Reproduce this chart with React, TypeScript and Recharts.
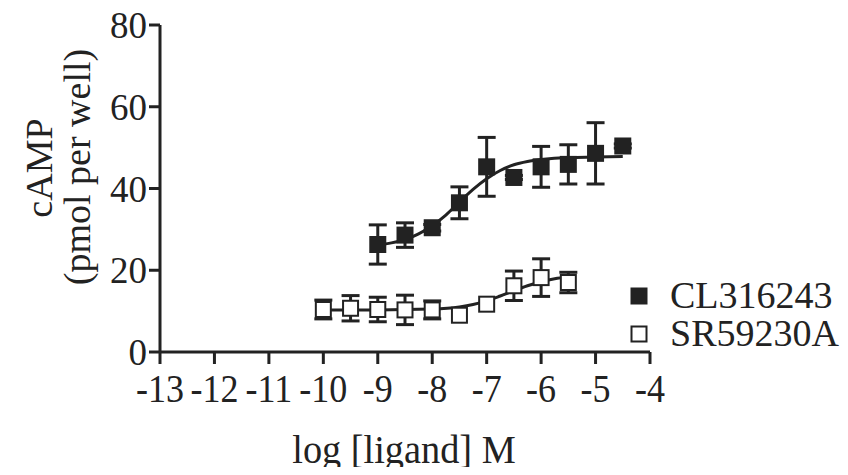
import { ComposedChart, Scatter, XAxis, YAxis, ErrorBar } from "recharts";

// log [ligand] M positions and cAMP means / error bars
const CL_X = [-9, -8.5, -8, -7.5, -7, -6.5, -6, -5.5, -5, -4.5];
const CL_MEAN = [26.3, 28.6, 30.4, 36.5, 45.3, 42.7, 45.3, 45.9, 48.6, 50.4];
const CL_ERR = [4.8, 3.0, 0.8, 3.9, 7.2, 0.5, 5.0, 4.8, 7.5, 0.5];

const SR_X = [-10, -9.5, -9, -8.5, -8, -7.5, -7, -6.5, -6, -5.5];
const SR_MEAN = [10.4, 10.7, 10.4, 10.3, 10.3, 9.0, 11.7, 16.2, 18.2, 17.0];
const SR_ERR = [2.3, 3.1, 3.0, 3.6, 2.2, 0, 0, 3.6, 4.6, 2.5];

// fitted curves
const CL_FIT_X = [-9, -8.75, -8.5, -8.25, -8, -7.75, -7.5, -7.25, -7, -6.75, -6.5, -6.25, -6, -5.5, -5, -4.5];
const CL_FIT_Y = [26.2, 26.7, 27.5, 28.9, 30.9, 33.5, 36.7, 39.8, 42.4, 44.4, 45.8, 46.6, 47.1, 47.6, 47.7, 47.8];

const SR_FIT_X = [-10, -9, -8, -7.5, -7.25, -7, -6.75, -6.5, -6.25, -6, -5.75, -5.5];
const SR_FIT_Y = [10.3, 10.3, 10.5, 11.0, 11.6, 12.5, 13.7, 15.0, 16.2, 17.2, 17.9, 18.4];

const X_TICKS = [-13, -12, -11, -10, -9, -8, -7, -6, -5, -4];
const Y_TICKS = [0, 20, 40, 60, 80];

const SERIES = [
  { name: "CL316243", filled: true },
  { name: "SR59230A", filled: false },
];

const INK = "#222";
const FONT = "'Liberation Serif', 'Times New Roman', serif";

const clData = CL_X.map((x, i) => ({ x, y: CL_MEAN[i], err: CL_ERR[i] }));
const srData = SR_X.map((x, i) => ({ x, y: SR_MEAN[i], err: SR_ERR[i] }));
const clFit = CL_FIT_X.map((x, i) => ({ x, y: CL_FIT_Y[i] }));
const srFit = SR_FIT_X.map((x, i) => ({ x, y: SR_FIT_Y[i] }));

function square(filled: boolean) {
  return (props: any) => {
    const { cx, cy } = props;
    if (cx == null || cy == null) return <g />;
    return filled ? (
      <rect x={cx - 8.5} y={cy - 8.5} width={17} height={17} fill={INK} />
    ) : (
      <rect x={cx - 7.5} y={cy - 7.5} width={15} height={15} fill="#fff" stroke={INK} strokeWidth={2} />
    );
  };
}

const noDot = () => <g />;

function XTick({ x, y, payload }: any) {
  return (
    <text
      transform={`translate(${x},${y + 36}) scale(0.9,1)`}
      textAnchor="middle"
      fontSize={40}
      fontFamily={FONT}
      fill={INK}
    >
      {payload.value}
    </text>
  );
}

const xTitle = () => (
  <text
    transform="translate(404,463) scale(0.935,1)"
    textAnchor="middle"
    fontSize={41}
    fontFamily={FONT}
    fill={INK}
  >
    log [ligand] M
  </text>
);

const yTitle = () => (
  <g fontSize={38} fontFamily={FONT} fill={INK}>
    <text x={52} y={168} transform="rotate(-90,52,168)" textAnchor="middle">
      cAMP
    </text>
    <text x={90} y={167} transform="rotate(-90,90,167)" textAnchor="middle">
      (pmol per well)
    </text>
  </g>
);

export default function App() {
  return (
    <div style={{ position: "relative", width: 848, height: 475, margin: -8, background: "#fff" }}>
      <ComposedChart
        width={848}
        height={475}
        margin={{ top: 25, right: 198, bottom: 63, left: 100 }}
      >
        <XAxis
          type="number"
          dataKey="x"
          domain={[-13, -4]}
          ticks={X_TICKS}
          height={60}
          axisLine={{ stroke: INK, strokeWidth: 3 }}
          tickLine={{ stroke: INK, strokeWidth: 3 }}
          tickSize={12}
          tick={<XTick />}
          interval={0}
          label={{ content: xTitle }}
        />
        <YAxis
          type="number"
          dataKey="y"
          domain={[0, 80]}
          ticks={Y_TICKS}
          width={60}
          axisLine={{ stroke: INK, strokeWidth: 3 }}
          tickLine={{ stroke: INK, strokeWidth: 3 }}
          tickSize={11}
          tick={{ fontSize: 37, fontFamily: FONT, fill: INK }}
          interval={0}
          label={{ content: yTitle }}
        />
        <Scatter
          data={clFit}
          line={{ stroke: INK, strokeWidth: 3 }}
          lineJointType="monotoneX"
          shape={noDot}
          isAnimationActive={false}
        />
        <Scatter
          data={srFit}
          line={{ stroke: INK, strokeWidth: 3 }}
          lineJointType="monotoneX"
          shape={noDot}
          isAnimationActive={false}
        />
        <Scatter name="CL316243" data={clData} shape={square(true)} isAnimationActive={false}>
          <ErrorBar dataKey="err" direction="y" width={9} stroke={INK} strokeWidth={3} isAnimationActive={false} />
        </Scatter>
        <Scatter name="SR59230A" data={srData} shape={square(false)} isAnimationActive={false}>
          <ErrorBar dataKey="err" direction="y" width={9} stroke={INK} strokeWidth={3} isAnimationActive={false} />
        </Scatter>
      </ComposedChart>
      <svg width={848} height={475} style={{ position: "absolute", left: 0, top: 0, pointerEvents: "none" }}>
        {SERIES.map((s, i) => {
          const cy = 296 + i * 38;
          return (
            <g key={s.name}>
              {square(s.filled)({ cx: 639, cy })}
              <text x={670} y={cy + 12} fontSize={38} fontFamily={FONT} fill={INK}>
                {s.name}
              </text>
            </g>
          );
        })}
      </svg>
    </div>
  );
}
